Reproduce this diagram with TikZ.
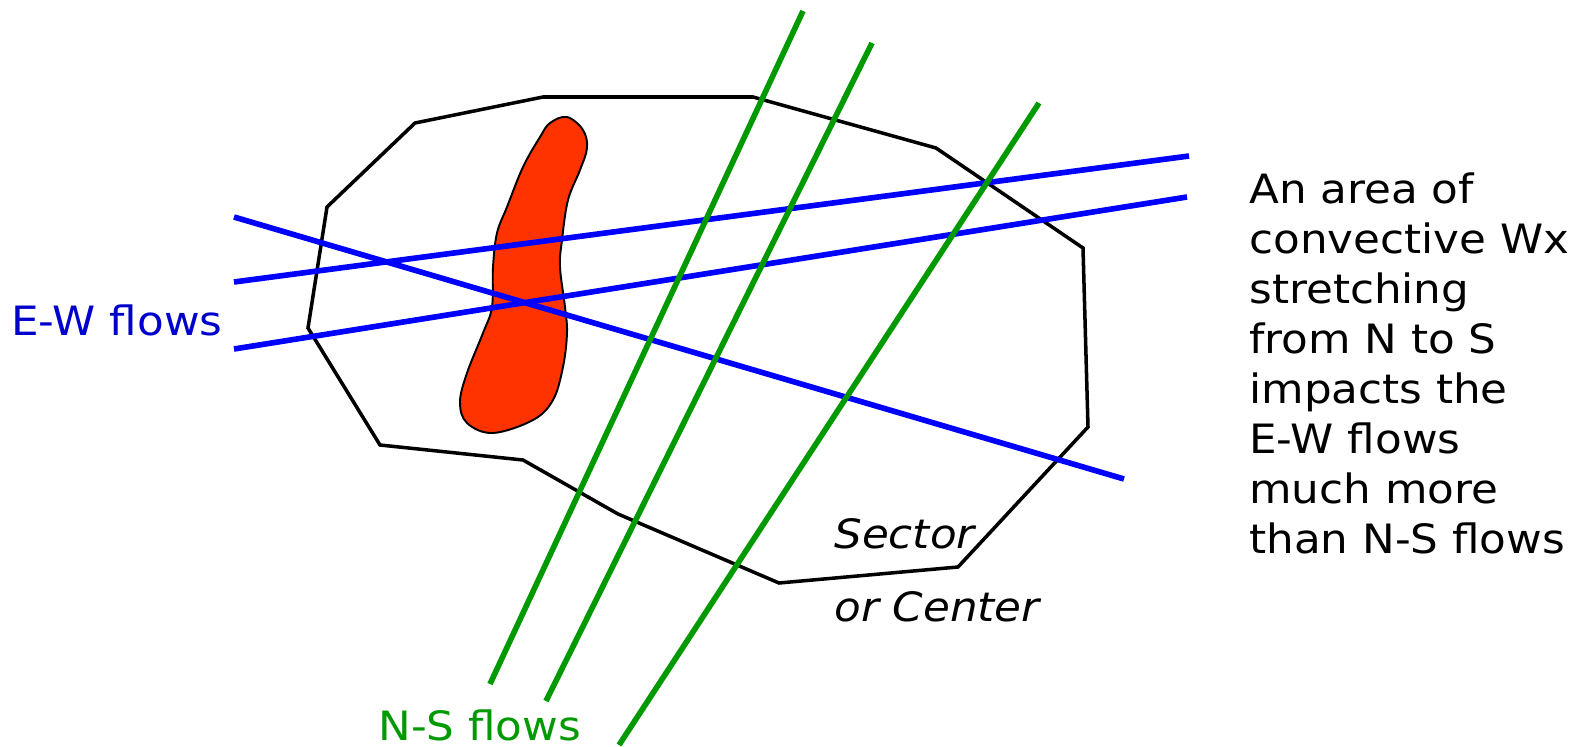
\documentclass[tikz,border=0pt]{standalone}
\usepackage{fontspec}
\setmainfont{DejaVu Sans}[FakeStretch=1.08]
\usepackage{tikz}
\definecolor{flowblue}{RGB}{0,0,255}
\definecolor{textblue}{RGB}{0,0,204}
\definecolor{flowgreen}{RGB}{0,153,0}
\definecolor{wxred}{RGB}{255,51,0}
\tikzset{
  sector/.style   = {draw=black, line width=2pt, line join=miter},
  ewflow/.style   = {draw=flowblue, line width=3.2pt},
  nsflow/.style   = {draw=flowgreen, line width=3.2pt},
  wx/.style       = {draw=black, line width=1.1pt, fill=wxred},
  label/.style    = {inner sep=0pt, font=\fontsize{23}{28.4}\selectfont},
}
\begin{document}
\begin{tikzpicture}[x=0.02cm, y=-0.02cm]
  \useasboundingbox (0,0) rectangle (1576,747);

  % sector outline
  \draw[sector] (415,123) -- (543,97) -- (753,97) -- (936,148) -- (1083,248)
    -- (1088,427) -- (958,567) -- (779,583) -- (618,514) -- (523,460)
    -- (380,445) -- (308,328) -- (327,207) -- cycle;

  % convective weather cell
  \draw[wx] plot[smooth cycle, tension=0.6] coordinates {
    (567,117) (583,130) (587,148) (580,170) (568,200) (562,240) (560,267)
    (565,307) (567,333) (563,367) (553,400) (533,420) (493,433) (467,423)
    (460,402) (467,373) (483,333) (492,307) (493,267) (497,233) (507,207)
    (523,167) (540,137) (550,123)};

  % E-W flows
  \coordinate (ew1w) at (234,282);  \coordinate (ew1e) at (1189,156);
  \coordinate (ew2w) at (234,349);  \coordinate (ew2e) at (1187,197);
  \coordinate (ew3w) at (234,217);  \coordinate (ew3e) at (1124,479);
  \draw[ewflow] (ew1w) -- (ew1e);
  \draw[ewflow] (ew2w) -- (ew2e);
  \draw[ewflow] (ew3w) -- (ew3e);

  % N-S flows
  \coordinate (ns1s) at (490,684);  \coordinate (ns1n) at (803,11);
  \coordinate (ns2s) at (546,701);  \coordinate (ns2n) at (872,43);
  \coordinate (ns3s) at (619,745);  \coordinate (ns3n) at (1039,103);
  \draw[nsflow] (ns1s) -- (ns1n);
  \draw[nsflow] (ns2s) -- (ns2n);
  \draw[nsflow] (ns3s) -- (ns3n);

  % labels
  \node[label, text=textblue, anchor=base west] (ewlabel) at (11,335) {E-W flows};
  \node[label, text=flowgreen, anchor=base west] (nslabel) at (378,740) {N-S flows};
  \node[label, anchor=base west, font=\fontsize{23}{41}\selectfont\itshape,
        align=left] (sectorlabel) at (834,621) {Sector\\or Center};
  \node[label, anchor=base west, align=left] (note) at (1249,553)
    {An area of\\convective Wx\\stretching\\from N to S\\impacts the\\E-W flows\\much more\\than N-S flows};
\end{tikzpicture}
\end{document}
